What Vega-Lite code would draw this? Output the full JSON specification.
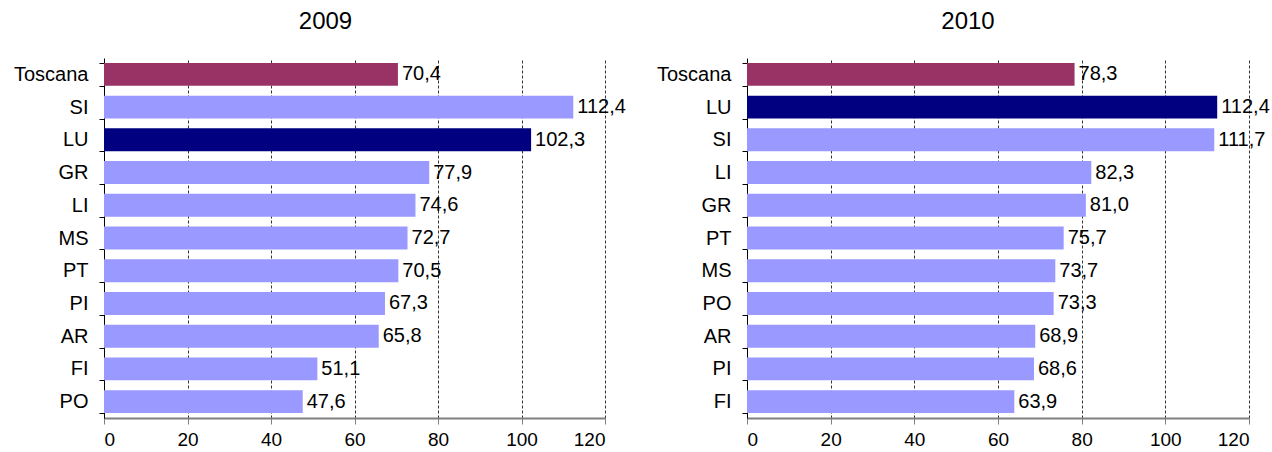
{
  "$schema": "https://vega.github.io/schema/vega-lite/v6.json",
  "padding": {"left": 10, "top": 10, "right": 5, "bottom": 5},
  "background": "white",
  "config": {
    "font": "Liberation Sans",
    "view": {"stroke": null},
    "concat": {"spacing": 142},
    "title": {"fontSize": 24, "fontWeight": "normal", "color": "#000000", "font": "Liberation Sans"}
  },
  "datasets": {
    "y2009": [
      {"name": "Toscana", "v": 70.4},
      {"name": "SI", "v": 112.4},
      {"name": "LU", "v": 102.3},
      {"name": "GR", "v": 77.9},
      {"name": "LI", "v": 74.6},
      {"name": "MS", "v": 72.7},
      {"name": "PT", "v": 70.5},
      {"name": "PI", "v": 67.3},
      {"name": "AR", "v": 65.8},
      {"name": "FI", "v": 51.1},
      {"name": "PO", "v": 47.6}
    ],
    "y2010": [
      {"name": "Toscana", "v": 78.3},
      {"name": "LU", "v": 112.4},
      {"name": "SI", "v": 111.7},
      {"name": "LI", "v": 82.3},
      {"name": "GR", "v": 81.0},
      {"name": "PT", "v": 75.7},
      {"name": "MS", "v": 73.7},
      {"name": "PO", "v": 73.3},
      {"name": "AR", "v": 68.9},
      {"name": "PI", "v": 68.6},
      {"name": "FI", "v": 63.9}
    ]
  },
  "bounds": "flush",
  "hconcat": [
    {
      "title": {"text": "2009", "dx": -29, "offset": 14},
      "width": 501,
      "height": 360,
      "data": {"name": "y2009"},
      "transform": [{"calculate": "replace(format(datum.v, '.1f'), '.', ',')", "as": "lbl"}],
      "encoding": {
        "y": {
          "field": "name", "type": "nominal",
          "sort": ["Toscana", "SI", "LU", "GR", "LI", "MS", "PT", "PI", "AR", "FI", "PO"],
          "scale": {"paddingInner": 0.3, "paddingOuter": 0.15},
          "axis": {"title": null, "tickBand": "extent", "domainColor": "#000000", "tickColor": "#000000", "tickSize": 5, "labelPadding": 11, "labelFontSize": 20, "labelColor": "#000000", "minExtent": 94, "maxExtent": 94}
        },
        "x": {
          "field": "v", "type": "quantitative",
          "scale": {"domain": [0, 120], "nice": false},
          "axis": {"title": null, "values": [0, 20, 40, 60, 80, 100, 120], "grid": true, "gridColor": "#333333", "gridDash": [3, 2], "gridWidth": 1, "domainColor": "#808080", "domainWidth": 2, "tickColor": "#808080", "tickSize": 6, "tickWidth": 1, "labelFontSize": 19, "labelColor": "#000000", "labelPadding": 6}
        }
      },
      "layer": [
        {
          "mark": {"type": "bar"},
          "encoding": {
            "color": {
              "condition": [
                {"test": "datum.name === 'Toscana'", "value": "#993366"},
                {"test": "datum.name === 'LU'", "value": "#000080"}
              ],
              "value": "#9999FF"
            }
          }
        },
        {
          "mark": {"type": "text", "align": "left", "baseline": "middle", "dx": 4, "fontSize": 20, "color": "#000000"},
          "encoding": {"text": {"field": "lbl"}}
        }
      ]
    },
    {
      "title": {"text": "2010", "dx": -30, "offset": 14},
      "width": 502,
      "height": 360,
      "data": {"name": "y2010"},
      "transform": [{"calculate": "replace(format(datum.v, '.1f'), '.', ',')", "as": "lbl"}],
      "encoding": {
        "y": {
          "field": "name", "type": "nominal",
          "sort": ["Toscana", "LU", "SI", "LI", "GR", "PT", "MS", "PO", "AR", "PI", "FI"],
          "scale": {"paddingInner": 0.3, "paddingOuter": 0.15},
          "axis": {"title": null, "tickBand": "extent", "domainColor": "#000000", "tickColor": "#000000", "tickSize": 5, "labelPadding": 11, "labelFontSize": 20, "labelColor": "#000000", "minExtent": 94, "maxExtent": 94}
        },
        "x": {
          "field": "v", "type": "quantitative",
          "scale": {"domain": [0, 120], "nice": false},
          "axis": {"title": null, "values": [0, 20, 40, 60, 80, 100, 120], "grid": true, "gridColor": "#333333", "gridDash": [3, 2], "gridWidth": 1, "domainColor": "#808080", "domainWidth": 2, "tickColor": "#808080", "tickSize": 6, "tickWidth": 1, "labelFontSize": 19, "labelColor": "#000000", "labelPadding": 6}
        }
      },
      "layer": [
        {
          "mark": {"type": "bar"},
          "encoding": {
            "color": {
              "condition": [
                {"test": "datum.name === 'Toscana'", "value": "#993366"},
                {"test": "datum.name === 'LU'", "value": "#000080"}
              ],
              "value": "#9999FF"
            }
          }
        },
        {
          "mark": {"type": "text", "align": "left", "baseline": "middle", "dx": 4, "fontSize": 20, "color": "#000000"},
          "encoding": {"text": {"field": "lbl"}}
        }
      ]
    }
  ]
}
